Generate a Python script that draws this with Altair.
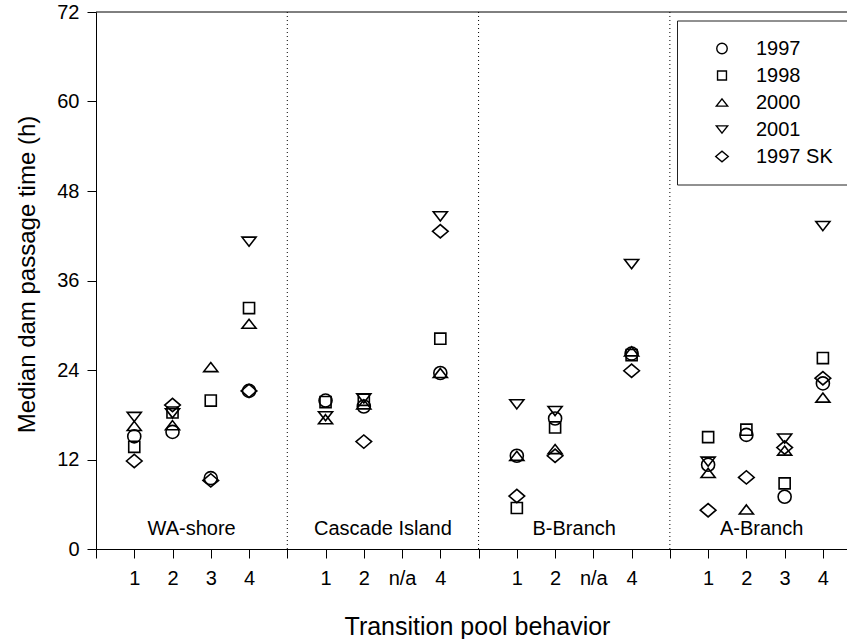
import altair as alt
import pandas as pd

# ---------------- data ----------------
series = ["1997", "1998", "2000", "2001", "1997 SK"]
groups = ["WA-shore", "Cascade Island", "B-Branch", "A-Branch"]
positions = [1, 2, 3, 4, 6, 7, 8, 9, 11, 12, 13, 14, 16, 17, 18, 19]
tick_labels = ["", "1", "2", "3", "4", "", "1", "2", "n/a", "4", "",
               "1", "2", "n/a", "4", "", "1", "2", "3", "4"]
v1997 = [15.1, 15.7, 9.5, 21.2, 19.9, 19.1, None, 23.6, 12.5, 17.5, None, 26.2, 11.3, 15.3, 7.0, 22.2]
v1998 = [13.7, 18.3, 19.9, 32.3, 19.7, 20.0, None, 28.2, 5.5, 16.3, None, 26.0, 15.0, 16.0, 8.8, 25.6]
v2000 = [16.5, 16.6, 24.4, 30.2, 17.4, 19.4, None, 23.6, 12.5, 13.4, None, 26.5, 10.2, 5.3, 13.2, 20.3]
v2001 = [17.7, 18.2, None, 41.2, 17.8, 20.2, None, 44.6, 19.4, 18.5, None, 38.2, 11.7, None, 14.8, 43.3]
v1997sk = [11.8, 19.3, 9.2, 21.2, None, 14.4, None, 42.6, 7.1, 12.5, None, 23.9, 5.2, 9.6, 13.6, 22.9]
group_label_pos = [2.5, 7.5, 12.5, 17.4]
divider_pos = [5, 10, 15]
y_ticks = [0, 12, 24, 36, 48, 60, 72]

values = [v1997, v1998, v2000, v2001, v1997sk]
rows = []
for name, vals in zip(series, values):
    for p, v in zip(positions, vals):
        if v is not None:
            rows.append({"pos": p, "time": v, "series": name})
df = pd.DataFrame(rows)

X_MAX = 19.63
FONT = "Liberation Sans"

shape_paths = [
    "circle",
    "M-0.85,-0.85H0.85V0.85H-0.85Z",
    "M0,-0.7L1.08,0.7L-1.08,0.7Z",
    "M0,0.7L1.08,-0.7L-1.08,-0.7Z",
    "M-1.2,0L0,-1.02L1.2,0L0,1.02Z",
]

label_array = "[" + ",".join("'%s'" % t for t in tick_labels) + "]"

x_scale = alt.Scale(domain=[0, X_MAX], nice=False, zero=False)
y_scale = alt.Scale(domain=[0, 72], nice=False)

x_axis = alt.Axis(
    values=list(range(20)), labelExpr=label_array + "[datum.value]",
    title="Transition pool behavior", titleFontSize=25, titleFontWeight="normal",
    titleX=381, titleY=77, titleAlign="center", titleBaseline="middle",
    labelFontSize=20, labelPadding=10, tickSize=9, labelAngle=0,
    domainColor="black", tickColor="black", labelColor="black", titleColor="black",
    grid=False, labelFlush=False, labelOverlap=False, labelBound=False,
)
y_axis = alt.Axis(
    values=y_ticks, title="Median dam passage time (h)", titleFontSize=24,
    titleFontWeight="normal", titleX=-69, titleY=262, titleAlign="center",
    titleBaseline="middle", labelFontSize=20, labelPadding=8, tickSize=9,
    domainColor="black", tickColor="black", labelColor="black", titleColor="black",
    grid=False, labelOverlap=False,
)

points = alt.Chart(df).mark_point(
    filled=False, color="black", strokeWidth=1.6, size=170, opacity=1
).encode(
    x=alt.X("pos:Q", scale=x_scale, axis=x_axis),
    y=alt.Y("time:Q", scale=y_scale, axis=y_axis),
    shape=alt.Shape(
        "series:N",
        scale=alt.Scale(domain=series, range=shape_paths),
        sort=series,
        legend=alt.Legend(
            orient="none", legendX=581, legendY=8.5, title=None,
            padding=18, symbolOffset=17, strokeColor="#222", fillColor="white",
            labelFontSize=20, labelOffset=24, rowPadding=7, symbolSize=110,
            symbolStrokeColor="black", symbolStrokeWidth=1.4,
            symbolFillColor="transparent", labelColor="black", labelLimit=600,
        ),
    ),
)

dividers = alt.Chart(pd.DataFrame({"d": divider_pos})).mark_rule(
    color="black", strokeWidth=1, strokeDash=[1, 3]
).encode(
    x=alt.X("d:Q", scale=x_scale, axis=x_axis),
    y=alt.YDatum(0, scale=y_scale, axis=y_axis),
    y2=alt.Y2Datum(72),
)

top_rule = alt.Chart(pd.DataFrame({"t": [72]})).mark_rule(
    color="black", strokeWidth=1
).encode(
    y=alt.Y("t:Q", scale=y_scale, axis=y_axis),
    x=alt.XDatum(0, scale=x_scale, axis=x_axis),
    x2=alt.X2Datum(X_MAX),
)

group_text = alt.Chart(
    pd.DataFrame({"g": groups, "gx": group_label_pos})
).mark_text(fontSize=20, color="black", baseline="alphabetic", align="center").encode(
    x=alt.X("gx:Q", scale=x_scale, axis=x_axis),
    y=alt.YDatum(1.9, scale=y_scale, axis=y_axis),
    text="g:N",
)

chart = alt.layer(points, dividers, top_rule, group_text).properties(
    width=751, height=537,
    padding={"left": 96, "top": 12, "right": 0, "bottom": 90},
    autosize=alt.AutoSizeParams(type="none"),
    background="white",
).configure(font=FONT).configure_view(stroke=None).configure_axis(
    labelOverlap=False
)

chart.save("out.html", embed_options={"renderer": "svg", "actions": False})
